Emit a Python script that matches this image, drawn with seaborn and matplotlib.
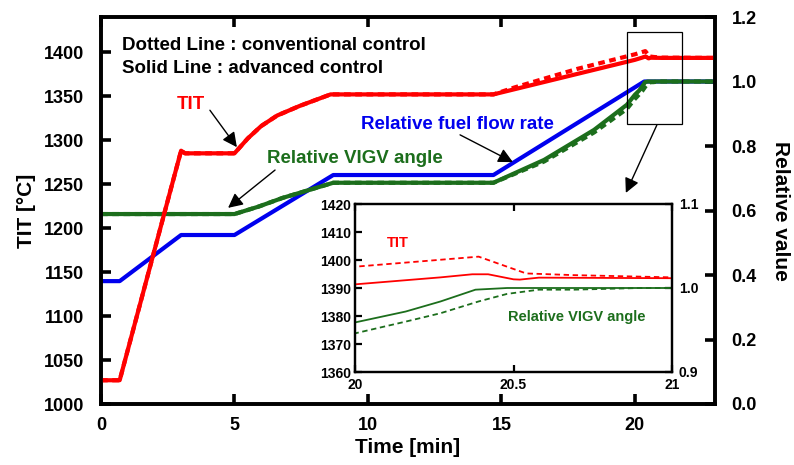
import matplotlib
matplotlib.use("Agg")
import matplotlib.pyplot as plt
import matplotlib.patches as mpatches
import numpy as np
import pandas as pd
import seaborn as sns

sns.set_style("ticks")
plt.rcParams["font.family"] = ["Liberation Sans", "DejaVu Sans"]
plt.rcParams["font.weight"] = "bold"
plt.rcParams["axes.labelweight"] = "bold"
for key in ("text.color", "axes.labelcolor", "xtick.color", "ytick.color", "axes.edgecolor"):
    plt.rcParams[key] = "black"

RED = "#ff0000"
BLUE = "#0000ee"
GREEN = "#1c6e1c"

# Turbine inlet temperature [degC], advanced (solid) and conventional (dotted) control
tit_adv_t = [0.0, 0.7, 3.0, 3.15, 5.0, 5.5, 6.0, 6.6, 7.45, 8.6, 14.7, 20.0, 20.27, 20.37, 20.42, 20.5, 20.52, 20.58, 21.0, 23.0]
tit_adv_v = [1027, 1027, 1288, 1285, 1285, 1302, 1316, 1328, 1339, 1352, 1352, 1391.3, 1393.8, 1394.9, 1394.9, 1393.1, 1393.0, 1393.7, 1393.5, 1393.5]
tit_conv_t = [0.0, 0.7, 3.0, 3.15, 5.0, 5.5, 6.0, 6.6, 7.45, 8.6, 14.7, 15.5, 17.84, 20.0, 20.39, 20.48, 20.54, 20.69, 21.0, 23.0]
tit_conv_v = [1027, 1027, 1288, 1285, 1285, 1302, 1316, 1328, 1339, 1352, 1352, 1360, 1381, 1397.6, 1401.2, 1397.6, 1395.2, 1394.6, 1393.8, 1393.5]

# Relative fuel flow rate
fuel_t = [0.0, 0.7, 3.0, 5.0, 8.7, 14.7, 20.35, 23.0]
fuel_v = [0.381, 0.381, 0.524, 0.524, 0.71, 0.71, 1.0, 1.0]

# Relative VIGV angle, advanced (solid) and conventional (dotted) control
vigv_adv_t = [0.0, 5.0, 5.9, 6.8, 8.7, 14.7, 16.6, 18.47, 19.7, 20.0, 20.16, 20.27, 20.38, 20.48, 23.0]
vigv_adv_v = [0.589, 0.589, 0.612, 0.639, 0.686, 0.686, 0.757, 0.85, 0.928, 0.959, 0.972, 0.984, 0.998, 1.0, 1.0]
vigv_conv_t = [0.0, 5.0, 5.9, 6.8, 8.7, 14.7, 16.6, 18.47, 19.7, 20.0, 20.16, 20.27, 20.39, 20.48, 20.58, 20.69, 20.9, 23.0]
vigv_conv_v = [0.589, 0.589, 0.612, 0.639, 0.686, 0.686, 0.752, 0.842, 0.915, 0.946, 0.96, 0.97, 0.984, 0.993, 0.998, 0.998, 1.0, 1.0]

# Axis ticks
time_ticks = [0, 5, 10, 15, 20]
tit_ticks = list(range(1000, 1401, 50))
rel_ticks = [0.0, 0.2, 0.4, 0.6, 0.8, 1.0, 1.2]
zoom_time_ticks = [20, 20.5, 21]
zoom_time_labels = ["20", "20.5", "21"]
zoom_tit_ticks = list(range(1360, 1421, 10))
zoom_rel_ticks = [0.9, 1.0, 1.1]


def frame(t, v):
    return pd.DataFrame({"t": t, "v": v})


W, H = 794, 465
fig = plt.figure(figsize=(W / 100, H / 100), dpi=100)
ax = fig.add_axes([101 / W, 1 - 404 / H, 614 / W, 387 / H])
ax2 = ax.twinx()

# relative values on the right-hand axis
sns.lineplot(data=frame(fuel_t, fuel_v), x="t", y="v", ax=ax2, color=BLUE, lw=3.0,
             estimator=None, sort=False)
sns.lineplot(data=frame(vigv_conv_t, vigv_conv_v), x="t", y="v", ax=ax2, color=GREEN, lw=3.0,
             linestyle=(0, (1.6, 1.1)), estimator=None, sort=False)
sns.lineplot(data=frame(vigv_adv_t, vigv_adv_v), x="t", y="v", ax=ax2, color=GREEN, lw=3.0,
             estimator=None, sort=False)

# temperature on the left-hand axis, drawn on top
sns.lineplot(data=frame(tit_adv_t, tit_adv_v), x="t", y="v", ax=ax, color=RED, lw=3.0,
             estimator=None, sort=False)
sns.lineplot(data=frame(tit_conv_t, tit_conv_v), x="t", y="v", ax=ax, color=RED, lw=3.0,
             linestyle=(0, (1.6, 1.1)), estimator=None, sort=False)
ax.set_zorder(ax2.get_zorder() + 1)
ax.patch.set_visible(False)

ax.set_xlim(0, 23)
ax.set_ylim(1000, 1440)
ax2.set_ylim(0, 1.2)
ax.set_xticks(time_ticks)
ax.set_yticks(tit_ticks)
ax2.set_yticks(rel_ticks)
ax2.set_yticklabels([f"{v:.1f}" for v in rel_ticks])

ax.tick_params(axis="both", direction="in", length=7, width=2.6, labelsize=13, colors="black")
ax.tick_params(axis="x", top=True, pad=9)
ax.tick_params(axis="y", right=False, pad=12)
ax2.tick_params(axis="y", direction="in", length=7, width=2.6, labelsize=13, pad=12, colors="black")
for a in (ax, ax2):
    for s in a.spines.values():
        s.set_linewidth(2.6)
        s.set_color("black")
    for lab in a.get_xticklabels() + a.get_yticklabels():
        lab.set_fontweight("bold")

ax.set_xlabel("Time [min]", fontsize=15, labelpad=3, color="black")
ax.set_ylabel("TIT [°C]", fontsize=15, labelpad=6, color="black")
ax2.set_ylabel("Relative value", fontsize=15, rotation=270, labelpad=24, color="black")

# Legend notes and series labels
ax.text(0.79, 1408, "Dotted Line : conventional control", fontsize=13.5, fontweight="bold",
        ha="left", va="center", color="black")
ax.text(0.79, 1382, "Solid Line : advanced control", fontsize=13.5, fontweight="bold",
        ha="left", va="center", color="black")

arrow = dict(arrowstyle="-|>", color="black", lw=1.0, mutation_scale=22, shrinkA=0, shrinkB=0)
ax.text(3.37, 1340, "TIT", color=RED, fontsize=13.5, fontweight="bold", ha="center", va="center")
ax.annotate("", xy=(5.09, 1292), xytext=(4.08, 1334), arrowprops=arrow)
ax.text(9.51, 1278.6, "Relative VIGV angle", color=GREEN, fontsize=13.5, fontweight="bold",
        ha="center", va="center")
ax.annotate("", xy=(4.76, 1223), xytext=(6.52, 1266), arrowprops=arrow)
ax.text(13.37, 1318, "Relative fuel flow rate", color=BLUE, fontsize=13.5, fontweight="bold",
        ha="center", va="center")
ax.annotate("", xy=(15.43, 1275), xytext=(13.45, 1306), arrowprops=arrow)

# zoom window and pointer to the inset
ax.add_patch(mpatches.Rectangle((19.7, 1318), 2.06, 105, fill=False, lw=0.9, ec="black", zorder=5))
ax.annotate("", xy=(19.66, 1240), xytext=(20.82, 1317), arrowprops=arrow)

# Inset: close-up around the end of the loading ramp
axi = fig.add_axes([355 / W, 1 - 372 / H, 317 / W, 168 / H])
axi2 = axi.twinx()
sns.lineplot(data=frame(vigv_conv_t, vigv_conv_v), x="t", y="v", ax=axi2, color=GREEN, lw=1.3,
             linestyle=(0, (3, 2)), estimator=None, sort=False)
sns.lineplot(data=frame(vigv_adv_t, vigv_adv_v), x="t", y="v", ax=axi2, color=GREEN, lw=1.3,
             estimator=None, sort=False)
sns.lineplot(data=frame(tit_conv_t, tit_conv_v), x="t", y="v", ax=axi, color=RED, lw=1.3,
             linestyle=(0, (3, 2)), estimator=None, sort=False)
sns.lineplot(data=frame(tit_adv_t, tit_adv_v), x="t", y="v", ax=axi, color=RED, lw=1.3,
             estimator=None, sort=False)
axi.patch.set_visible(False)
axi2.patch.set_facecolor("white")
axi2.patch.set_visible(True)

axi.set_xlim(20, 21)
axi.set_ylim(1360, 1420)
axi2.set_ylim(0.9, 1.1)
axi.set_xticks(zoom_time_ticks)
axi.set_xticklabels(zoom_time_labels)
axi.set_yticks(zoom_tit_ticks)
axi2.set_yticks(zoom_rel_ticks)
axi2.set_yticklabels([f"{v:.1f}" for v in zoom_rel_ticks])
axi.tick_params(axis="both", direction="in", length=5, width=1.6, labelsize=10, colors="black")
axi.tick_params(axis="x", top=True, pad=4)
axi.tick_params(axis="y", right=False, pad=3)
axi2.tick_params(axis="y", direction="in", length=5, width=1.6, labelsize=10, pad=5, colors="black")
for a in (axi, axi2):
    a.set_xlabel("")
    a.set_ylabel("")
    for s in a.spines.values():
        s.set_linewidth(1.6)
        s.set_color("black")
    for lab in a.get_xticklabels() + a.get_yticklabels():
        lab.set_fontweight("bold")

axi.text(20.136, 1406, "TIT", color=RED, fontsize=10.5, fontweight="bold", ha="center", va="center")
axi.text(20.70, 1379.6, "Relative VIGV angle", color=GREEN, fontsize=10.5, fontweight="bold",
         ha="center", va="center")

# inset sits above the main axes
fig.patch.set_facecolor("white")
axi2.set_zorder(10)
axi.set_zorder(11)

fig.savefig("out.png", dpi=100, facecolor="white")
